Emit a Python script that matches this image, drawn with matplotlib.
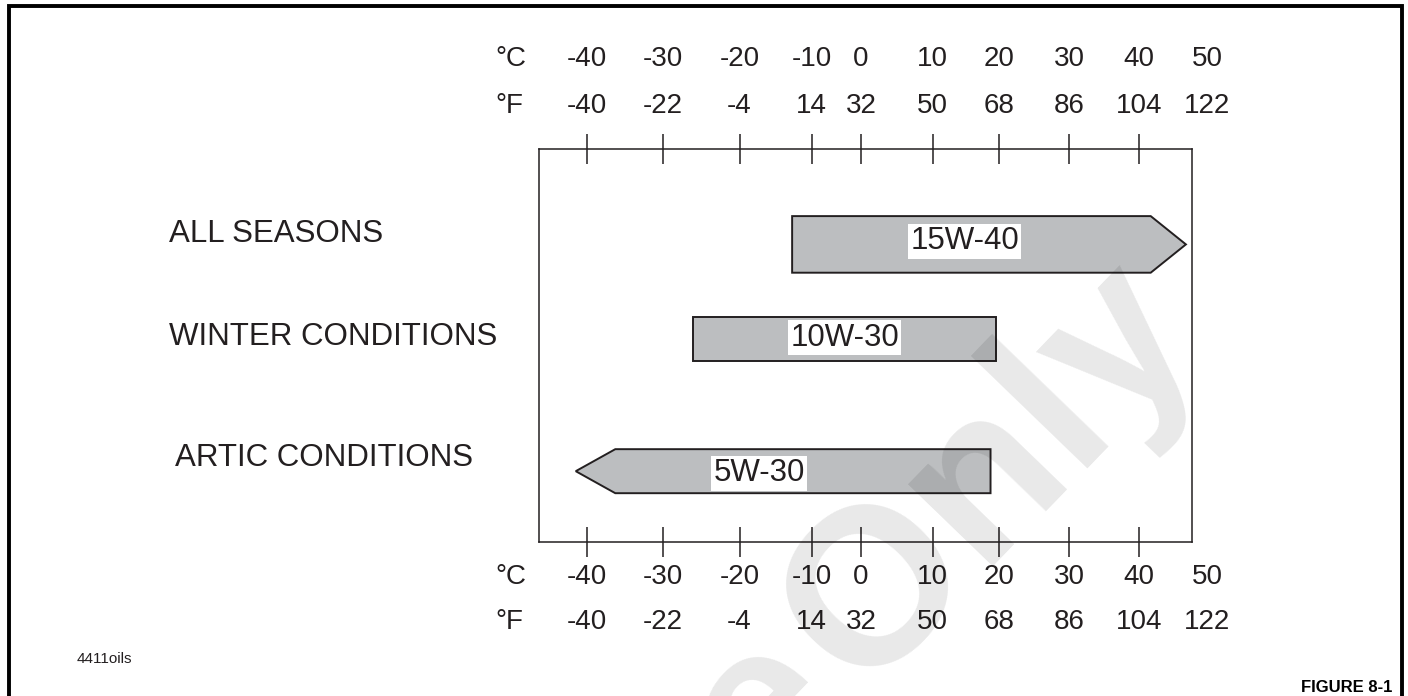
import numpy as np
import matplotlib
matplotlib.use('Agg')
import matplotlib.pyplot as plt
from matplotlib.patches import Polygon, Rectangle
from matplotlib.scale import FuncScale

plt.rcParams['font.family'] = ['Liberation Sans', 'DejaVu Sans']

# oil grades and their temperature ranges (deg C)
conditions = ['ALL SEASONS', 'WINTER CONDITIONS', 'ARTIC CONDITIONS']
grades = ['15W-40', '10W-30', '5W-30']
low_c = [-12.7, -26.1, -41.5]
high_c = [46.9, 19.5, 18.7]
open_low = [False, False, True]     # arrow head on the cold end
open_high = [True, False, False]    # arrow head on the warm end

tick_c = [-40, -30, -20, -10, 0, 10, 20, 30, 40, 50]
tick_f = [-40, -22, -4, 14, 32, 50, 68, 86, 104, 122]

# printed spacing of the thermometer scale (not uniform on the original)
scale_pos = [587.3, 663.3, 739.7, 811.7, 861.0, 932.7, 999.3, 1069.3, 1139.3, 1207.0]

# layout (axes fraction) for each row
row_y = [0.758, 0.517, 0.181]
bar_h = [0.144, 0.111, 0.112]
name_y = [0.765, 0.502, 0.194]
name_x = [-0.568, -0.568, -0.558]
label_c = [14.8, -3.3, -17.3]
label_y = [0.766, 0.521, 0.176]
head_c = 5.2

sc = np.array(tick_c, float)
sp = np.array(scale_pos, float)
s_lo = (sp[1] - sp[0]) / (sc[1] - sc[0])
s_hi = (sp[-1] - sp[-2]) / (sc[-1] - sc[-2])


def fwd(c):
    c = np.asarray(c, float)
    return np.where(c < sc[0], sp[0] + (c - sc[0]) * s_lo,
                    np.where(c > sc[-1], sp[-1] + (c - sc[-1]) * s_hi,
                             np.interp(c, sc, sp)))


def inv(p):
    p = np.asarray(p, float)
    return np.where(p < sp[0], sc[0] + (p - sp[0]) / s_lo,
                    np.where(p > sp[-1], sc[-1] + (p - sp[-1]) / s_hi,
                             np.interp(p, sp, sc)))


ink = '#231f20'
bar_col = '#bcbec0'

fig = plt.figure(figsize=(14.08, 6.96), dpi=100)
ax = fig.add_axes([0.3830, 0.2208, 0.4636, 0.5647])
ax.set_xscale(FuncScale(ax, (fwd, inv)))
ax.set_xlim(-46.3, 47.8)
ax.set_ylim(0, 1)
for s in ax.spines.values():
    s.set_linewidth(1.1)
    s.set_color(ink)

ax.set_xticks(tick_c[:-1])
ax.tick_params(axis='x', which='both', top=True, bottom=True, direction='inout',
               length=22, width=1.1, color=ink, labelbottom=False, labeltop=False)
ax.tick_params(axis='x', which='minor', length=0)
ax.set_yticks([])

# bars / arrows
for i in range(len(grades)):
    y0 = row_y[i] - bar_h[i] / 2
    y1 = row_y[i] + bar_h[i] / 2
    pts = []
    if open_low[i]:
        pts += [(low_c[i] + head_c, y0), (low_c[i], row_y[i]), (low_c[i] + head_c, y1)]
    else:
        pts += [(low_c[i], y0), (low_c[i], y1)]
    if open_high[i]:
        pts += [(high_c[i] - head_c, y1), (high_c[i], row_y[i]), (high_c[i] - head_c, y0)]
    else:
        pts += [(high_c[i], y1), (high_c[i], y0)]
    ax.add_patch(Polygon(pts, closed=True, facecolor=bar_col, edgecolor=ink,
                         linewidth=1.4, joinstyle='miter', clip_on=False))
    ax.text(label_c[i], label_y[i], grades[i], fontsize=22.5, color=ink,
            ha='center', va='center',
            bbox=dict(boxstyle='square,pad=0.08', facecolor='white', edgecolor='none'))
    ax.annotate(conditions[i], xy=(name_x[i], name_y[i]), xycoords='axes fraction',
                fontsize=22.5, color=ink, ha='left', va='baseline')

# temperature labels, top and bottom
rows = [(tick_c, 1, 60.3, '°C'), (tick_f, 1, 26.1, '°F'),
        (tick_c, 0, -30.0, '°C'), (tick_f, 0, -62.5, '°F')]
for vals, yref, off, unit in rows:
    for c, v in zip(tick_c, vals):
        ax.annotate(str(v), xy=(c, yref), xycoords=('data', 'axes fraction'),
                    xytext=(0, off), textcoords='offset points',
                    fontsize=20, color=ink, ha='center', va='baseline')
    ax.annotate(unit, xy=(-0.068, yref), xycoords='axes fraction',
                xytext=(0, off), textcoords='offset points',
                fontsize=20, color=ink, ha='left', va='baseline')

fig.text(0.0738, 0.0532, '4411oils', fontsize=11, color=ink, ha='center', va='center')
fig.text(0.989, 0.006, 'FIGURE 8-1', fontsize=12, fontweight='bold', color='black',
         ha='right', va='baseline')

# outer frame
fig.patches.append(Rectangle((9.3 / 1408, -0.05), (1402 - 9.3) / 1408, 1.05 - 6 / 696,
                             transform=fig.transFigure, fill=False, edgecolor='black',
                             linewidth=2.8, clip_on=False))

# watermark, only partly inside the page
wm = dict(fontsize=160, fontweight='bold', color='black', alpha=0.09, rotation=46,
          rotation_mode='anchor', ha='right', va='baseline', zorder=10)
fig.text(1203.7 / 1408, 1 - 338.6 / 696, 'Only', **wm)
fig.text(850.9 / 1408, 1 - 708.0 / 696, 'Sample', **wm)

fig.savefig('out.png', dpi=100)
